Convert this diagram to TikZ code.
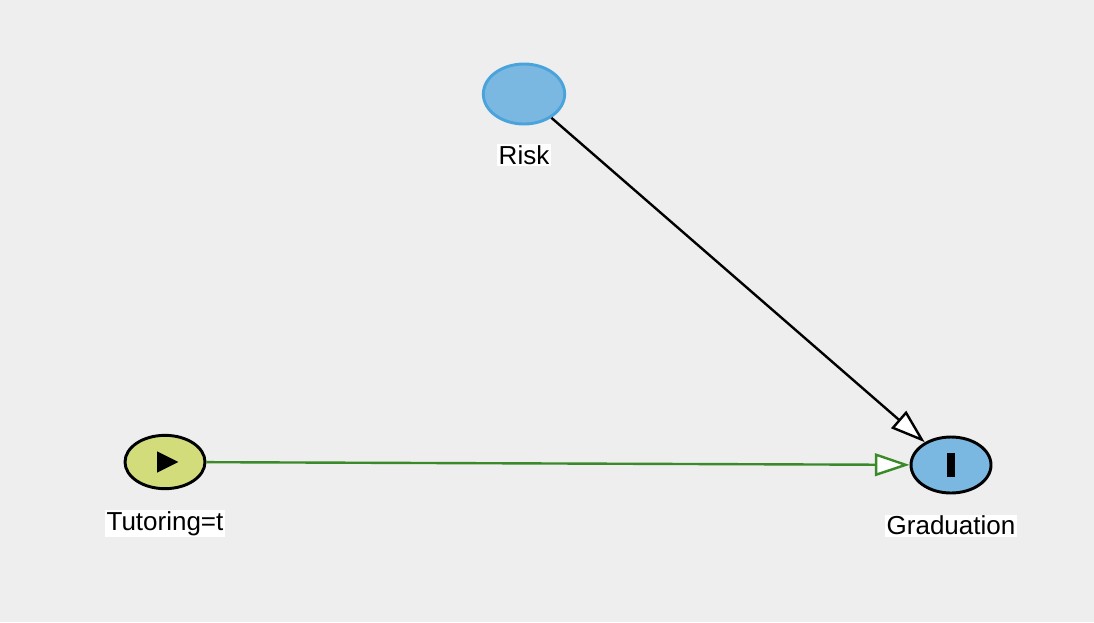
\documentclass[tikz,border=0pt]{standalone}
\usepackage{fontspec}
\setmainfont{Liberation Sans}
\usetikzlibrary{positioning, arrows.meta, shapes.geometric}
\definecolor{bgcol}{HTML}{EEEEEE}
\definecolor{riskfill}{HTML}{7AB8E2}
\definecolor{riskdraw}{HTML}{4BA3DC}
\definecolor{treatfill}{HTML}{D2DC7A}
\definecolor{edgegreen}{HTML}{3A8A2A}

\begin{document}
\begin{tikzpicture}[
    x=0.75pt, y=-0.75pt,
    node distance=14pt,
    var/.style={ellipse, draw=black, line width=2.2pt, minimum width=#1, inner sep=0pt},
    lbl/.style={fill=white, inner sep=1pt, font=\fontsize{19.5}{22}\selectfont},
    arr/.style={-{Triangle[length=26pt, width=17pt, fill=white]}, line width=1.8pt, draw=#1},
]
\fill[bgcol] (0,0) rectangle (1094,622);
\useasboundingbox (0,0) rectangle (1094,622);

% variables
\node[var=61pt, minimum height=45pt, draw=riskdraw, fill=riskfill] (risk) at (524,94) {};
\node[var=60pt, minimum height=40pt, fill=treatfill] (tut) at (165,462) {};
\node[var=60pt, minimum height=42pt, fill=riskfill] (grad) at (951,465) {};

% symbols inside
\fill[black] ([xshift=-6pt,yshift=8pt]tut.center) -- ([xshift=-6pt,yshift=-8pt]tut.center) -- ([xshift=10pt]tut.center) -- cycle;
\fill[black] ([xshift=-3pt,yshift=-9pt]grad.center) rectangle ([xshift=3pt,yshift=9pt]grad.center);

% labels
\node[lbl, below=14pt of risk] (risklbl) {Risk};
\node[lbl, below=15pt of tut] (tutlbl) {Tutoring=t};
\node[lbl, below=15pt of grad] (gradlbl) {Graduation};

% edges
\draw[arr=black] (risk) -- (grad);
\draw[arr=edgegreen] (tut) -- (grad);
\end{tikzpicture}
\end{document}
